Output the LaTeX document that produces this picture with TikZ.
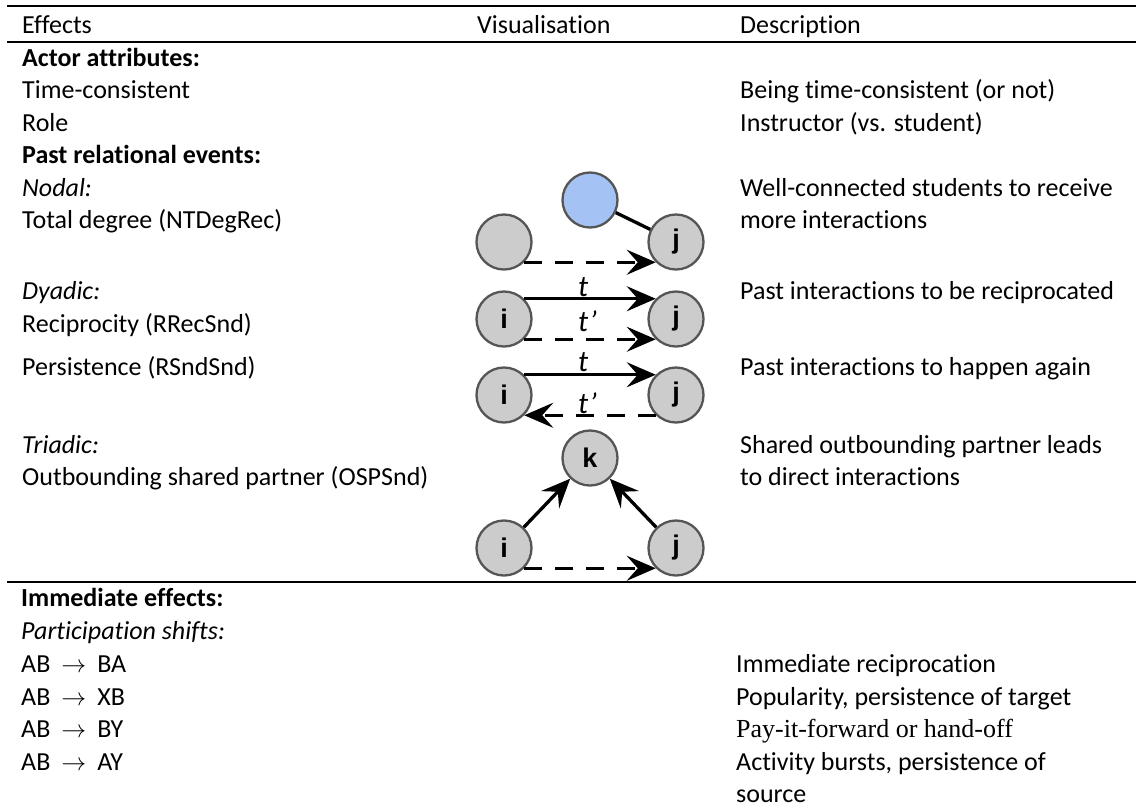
\documentclass[tikz,border=0pt]{standalone}
\usepackage{fontspec}
\setmainfont{Carlito}[Ligatures=NoCommon,RawFeature={-liga;-clig;-dlig;-calt}]
\newfontfamily\serifface{Liberation Serif}
\newfontfamily\labelface{Liberation Sans}
\usetikzlibrary{arrows.meta}
\definecolor{nodegray}{HTML}{CCCCCC}
\definecolor{nodeborder}{HTML}{555555}
\definecolor{nodeblue}{HTML}{A4C2F4}
\begin{document}
\begin{tikzpicture}[x=1pt,y=-1pt,
  txt/.style={anchor=base west, inner sep=0pt, font=\fontsize{26}{32}\selectfont},
  btxt/.style={txt, font=\fontsize{26}{32}\selectfont\bfseries},
  itxt/.style={txt, font=\fontsize{26}{32}\selectfont\itshape},
  stxt/.style={txt, font=\fontsize{26}{32}\selectfont\serifface},
  vert/.style={circle, draw=nodeborder, line width=2.3pt, fill=nodegray,
    minimum size=55pt, inner sep=0pt,
    font=\labelface\bfseries\fontsize{27}{27}\selectfont},
  bluevert/.style={vert, fill=nodeblue},
  link/.style={line width=3.3pt, black},
  arr/.style={link, -{Stealth[length=29pt,width=25pt,inset=11pt]}},
  dsh/.style={dash pattern=on 18pt off 13pt},
  tlab/.style={anchor=base west, inner sep=0pt, font=\fontsize{30}{30}\selectfont\itshape},
  rulethick/.style={line width=2.5pt, black},
  rulethin/.style={line width=2.2pt, black}]
\useasboundingbox (0,0) rectangle (1136,807);
\fill[white] (0,0) rectangle (1136,807);

% rules
\draw[rulethick] (7,6) -- (1136,6);
\draw[rulethin] (7,42) -- (1136,42);
\draw[rulethick] (7,582) -- (1136,582);

% header
\node[txt] (hEff) at (22,33) {Effects};
\node[txt] (hVis) at (477,33) {Visualisation};
\node[txt] (hDes) at (740,33) {Description};

% left column
\node[btxt] (actor) at (22,66) {Actor attributes:};
\node[txt] (timec) at (22,98.5) {Time-consistent};
\node[txt] (role) at (22,131) {Role};
\node[btxt] (past) at (22,163.5) {Past relational events:};
\node[itxt] (nodal) at (22,196) {Nodal:};
\node[txt] (totdeg) at (22,228.5) {Total degree (NTDegRec)};
\node[itxt] (dyadic) at (22,299) {Dyadic:};
\node[txt] (recip) at (22,332) {Reciprocity (RRecSnd)};
\node[txt] (persist) at (22,375) {Persistence (RSndSnd)};
\node[itxt] (triadic) at (22,453) {Triadic:};
\node[txt] (osp) at (22,485.5) {Outbounding shared partner (OSPSnd)};

\node[btxt] (immed) at (21,606) {Immediate effects:};
\node[itxt] (pshift) at (21,639) {Participation shifts:};
\node[txt] (ps1) at (21,672) {AB\hspace{11pt}$\rightarrow$\hspace{11pt}BA};
\node[txt] (ps2) at (21,705) {AB\hspace{11pt}$\rightarrow$\hspace{11pt}XB};
\node[txt] (ps3) at (21,737) {AB\hspace{11pt}$\rightarrow$\hspace{11pt}BY};
\node[txt] (ps4) at (21,770) {AB\hspace{11pt}$\rightarrow$\hspace{11pt}AY};

% description column
\node[txt] (dtime) at (740,98.5) {Being time-consistent (or not)};
\node[txt] (drole) at (740,131) {Instructor (vs. student)};
\node[txt] (dnod1) at (740,196) {Well-connected students to receive};
\node[txt] (dnod2) at (740,228.5) {more interactions};
\node[txt] (drec) at (740,299) {Past interactions to be reciprocated};
\node[txt] (dper) at (740,375) {Past interactions to happen again};
\node[txt] (dtri1) at (740,453) {Shared outbounding partner leads};
\node[txt] (dtri2) at (740,485.5) {to direct interactions};

\node[txt] (dps1) at (736,672) {Immediate reciprocation};
\node[txt] (dps2) at (736,705) {Popularity, persistence of target};
\node[stxt] (dps3) at (736,737) {Pay-it-forward or hand-off};
\node[txt] (dps4) at (736,770) {Activity bursts, persistence of};
\node[txt] (dps5) at (736,802) {source};

% visualisation: nodal
\node[bluevert] (nb) at (590,200) {};
\node[vert] (ng) at (504,242) {};
\node[vert] (nj) at (676,242) {j};
\draw[link] (nb) -- (nj);
\draw[arr, dsh] (ng.-45) -- (nj.-135);

% dyadic: reciprocity
\node[vert] (ri) at (504,319) {i};
\node[vert] (rj) at (676,319) {j};
\draw[arr] (ri.45) -- (rj.135);
\draw[arr, dsh] (ri.-45) -- (rj.-135);
\node[tlab] (rt1) at (578,296.5) {t};
\node[tlab] (rt2) at (578,331.5) {t’};

% dyadic: persistence
\node[vert] (pi) at (504,395) {i};
\node[vert] (pj) at (676,395) {j};
\draw[arr] (pi.45) -- (pj.135);
\draw[arr, dsh] (pj.-135) -- (pi.-45);
\node[tlab] (pt1) at (578,371.5) {t};
\node[tlab] (pt2) at (578,413) {t’};

% triadic
\node[vert] (tk) at (590,458) {k};
\node[vert] (ti) at (504,548) {i};
\node[vert] (tj) at (676,548) {j};
\draw[arr] (ti) -- (tk);
\draw[arr] (tj) -- (tk);
\draw[arr, dsh] (ti.-45) -- (tj.-135);
\end{tikzpicture}
\end{document}
